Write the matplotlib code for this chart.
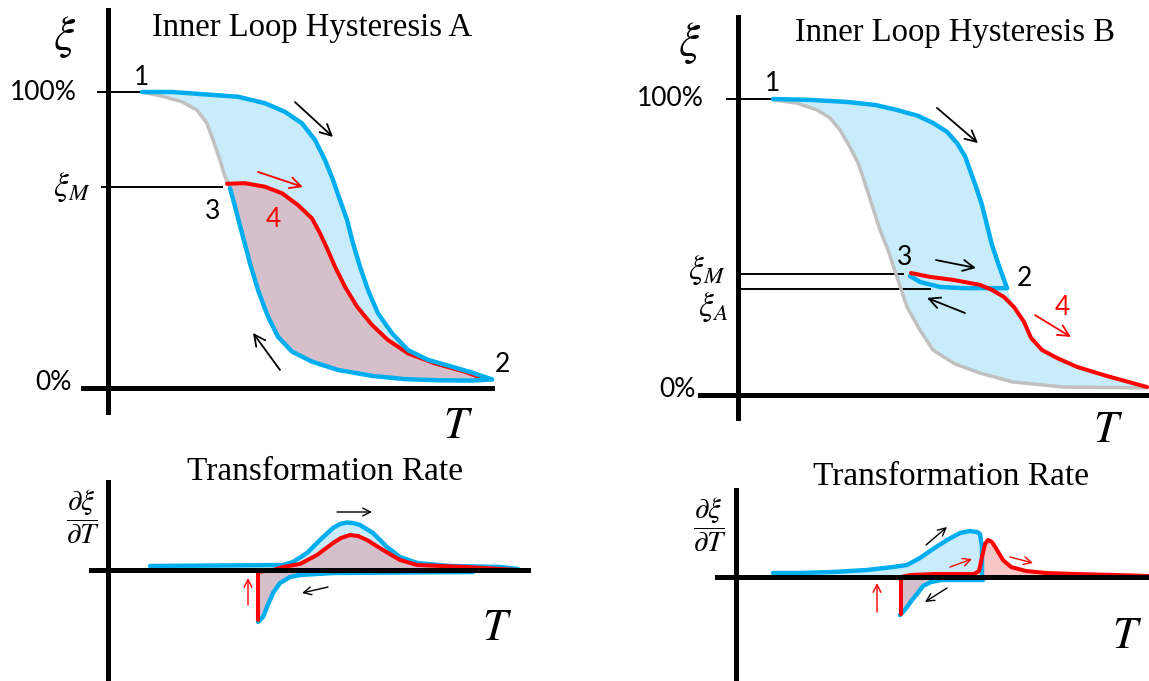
import numpy as np
import matplotlib.pyplot as plt

plt.rcParams['mathtext.fontset'] = 'stix'

# ---- data (T in arbitrary units, xi in %, rate in arbitrary units) ----
# Panel A, xi(T)
A_heat_T = [34, 64, 97, 130, 157, 177, 194, 207, 217, 225, 232, 239, 245, 252, 260, 270, 284, 300, 320, 344, 364, 384]
A_heat_xi = [100, 100, 99.2, 98.4, 96.2, 93.3, 89.4, 83.8, 77.0, 70.3, 63.5, 56.8, 48.9, 41.0, 33.1, 25.2, 18.5,
             12.8, 9.5, 7.2, 5.2, 2.9]
A_gray_T = [34, 54, 74, 89, 99, 105, 112, 117, 121]
A_gray_xi = [100, 98.6, 96.7, 93.9, 89.4, 83.8, 77.0, 71.4, 68.5]
A_cool_T = [122, 127, 134, 142, 150, 160, 170, 184, 204, 230, 264, 297, 330, 364, 384]
A_cool_xi = [67.5, 61.3, 52.3, 42.1, 33.1, 24.1, 17.3, 12.3, 8.9, 6.1, 4.1, 3.0, 2.6, 2.5, 2.9]
A_red_T = [119, 137, 157, 174, 190, 204, 212, 219, 227, 237, 249, 264, 280, 300, 327, 357, 372]
A_red_xi = [69.0, 69.2, 68.0, 65.8, 61.8, 57.3, 52.3, 47.2, 41.0, 34.2, 27.5, 21.3, 16.2, 11.7, 8.3, 5.5, 3.6]

# Panel B, xi(T)
B_heat_T = [35, 72, 109, 137, 159, 180, 195, 209, 219, 227, 232, 238, 244, 249, 254, 260, 265, 269]
B_heat_xi = [100, 99.7, 99.0, 98.0, 96.3, 94.3, 91.9, 88.9, 85.1, 80.7, 76.0, 70.3, 64.2, 57.4, 50.7, 44.6,
             39.9, 36.1]
B_inner_T = [172, 182, 202, 225, 242, 269]
B_inner_xi = [40.2, 38.2, 36.5, 36.1, 36.1, 36.1]
B_red_T = [173, 192, 215, 242, 254, 266, 276, 286, 293, 304, 319, 339, 369, 409]
B_red_xi = [41.2, 39.9, 38.9, 37.2, 35.5, 33.1, 29.7, 24.7, 19.3, 15.2, 12.5, 9.5, 6.4, 2.7]
B_gray_T = [35, 59, 79, 92, 102, 112, 120, 125, 134, 142, 150, 159, 169, 182, 195, 217, 242, 275, 325, 409]
B_gray_xi = [99.7, 98.6, 96.3, 93.6, 89.5, 83.8, 78.4, 73.6, 64.2, 55.7, 49.0, 39.9, 29.7, 21.9, 15.2, 10.5,
             7.4, 4.4, 2.7, 2.4]

# Panel A, rate
RA_heat_T = [42, 175, 185, 199, 212, 225, 232, 239, 245, 252, 265, 279, 292, 309, 342, 392, 410]
RA_heat_r = [4, 5, 8, 17, 30, 42, 46, 47.5, 47, 45, 37, 23, 13, 7, 4, 3, 1]
RA_red_T = [150, 150, 165, 175, 192, 209, 225, 233, 242, 250, 259, 275, 292, 309, 359, 392, 410]
RA_red_r = [-50, -2, 0, 3, 6, 15, 27, 32, 35, 34, 30, 20, 10, 5, 3, 1, 0]
RA_cool_T = [150, 155, 159, 165, 172, 182, 192, 225, 365]
RA_cool_r = [-52, -47, -37, -23, -13, -7, -5, -3, -2]

# Panel B, rate
RB_heat_T = [37, 64, 97, 131, 157, 171, 184, 197, 211, 224, 234, 241, 244, 246, 246]
RB_heat_r = [4, 4, 5, 7, 10, 12, 19, 28, 37, 44, 46, 45, 43, 30, 2]
RB_cool_T = [164, 167, 171, 176, 181, 187, 195, 205, 225, 247]
RB_cool_r = [-38, -35, -30, -23, -17, -9, -5, -3, -3, -3]
RB_red_T = [165, 165, 175, 200, 238, 243, 246, 249, 252, 256, 261, 267, 275, 290, 310, 340, 380, 413]
RB_red_r = [-37, 0, 2, 3, 3, 6, 20, 33, 37, 35, 27, 17, 10, 6, 4, 3, 2, 1]

BLUE = '#00aeef'
RED = '#ff0000'
GRAY = '#c0c0c0'
LBLUE = '#c8ecf9'
MAUVE = '#d5bfca'
PINK = '#f8c6c6'
LW_BLUE, LW_RED, LW_GRAY = 3.2, 2.9, 2.5

W, H = 1149, 681
fig = plt.figure(figsize=(W / 100, H / 100), dpi=100)


def panel(box, origin, yscale, xbounds, ybounds):
    # box in pixels (x0, y0, x1, y1) measured from top-left; origin = pixel of the axes crossing
    x0, y0, x1, y1 = box
    ox, oy = origin
    ax = fig.add_axes([x0 / W, 1 - y1 / H, (x1 - x0) / W, (y1 - y0) / H])
    ax.set_xlim(x0 - ox, x1 - ox)
    ax.set_ylim((oy - y1) / yscale, (oy - y0) / yscale)
    ax.set_xticks([])
    ax.set_yticks([])
    ax.patch.set_alpha(0)
    for s in ['top', 'right']:
        ax.spines[s].set_visible(False)
    for s in ['left', 'bottom']:
        ax.spines[s].set_position(('data', 0))
        ax.spines[s].set_linewidth(3.6)
        ax.spines[s].set_zorder(6)
    ax.spines['bottom'].set_bounds(*xbounds)
    ax.spines['left'].set_bounds(*ybounds)
    return ax


def arrow(ax, start, end, color='black', ms=20, lw=1.3):
    ax.annotate('', xy=end, xytext=start,
                arrowprops=dict(arrowstyle='->', color=color, lw=lw, mutation_scale=ms,
                                shrinkA=0, shrinkB=0), zorder=8)


def num(ax, x, y, s, color='black', ha='center'):
    ax.text(x, y, s, fontsize=19, family='Lato', color=color, ha=ha, va='center', zorder=9)


serif = 'Liberation Serif'

# ---------------- top left: Inner Loop Hysteresis A ----------------
ax = panel((0, 0, 560, 440), (108, 388), 2.96, (-25, 384), (-8.1, 127.7))
ax.fill(A_heat_T + A_cool_T[::-1] + A_gray_T[::-1], A_heat_xi + A_cool_xi[::-1] + A_gray_xi[::-1],
        color=LBLUE, lw=0, zorder=1)
ax.fill(A_red_T + A_cool_T[::-1], A_red_xi + A_cool_xi[::-1], color=MAUVE, lw=0, zorder=1.5)
ax.plot([-10, 49], [100, 100], color='black', lw=1.4, zorder=2)
ax.plot([-6, 114], [67.9, 67.9], color='black', lw=1.4, zorder=2)
ax.plot(A_gray_T, A_gray_xi, color=GRAY, lw=LW_GRAY, solid_capstyle='round', zorder=3)
ax.plot(A_red_T, A_red_xi, color=RED, lw=LW_RED, solid_capstyle='round', zorder=4)
ax.plot(A_heat_T, A_heat_xi, color=BLUE, lw=LW_BLUE, solid_capstyle='round', zorder=5)
ax.plot(A_cool_T, A_cool_xi, color=BLUE, lw=LW_BLUE, solid_capstyle='round', zorder=5)
arrow(ax, (187, 96.6), (225, 84.8))
arrow(ax, (150, 73), (195, 67.9), RED)
arrow(ax, (172, 6.1), (145, 18.6))
ax.text(204, 121.6, 'Inner Loop Hysteresis A', family=serif, fontsize=23.5, ha='center', va='center')
ax.text(-43, 118.6, r'$\xi$', fontsize=34, ha='center', va='center')
ax.text(350, -12.5, r'$T$', fontsize=32, ha='center', va='center')
ax.text(-31, 99.7, '100%', fontsize=19, family='Lato', ha='right', va='center')
ax.text(-17, 67.9, r'$\xi_M$', fontsize=24, ha='right', va='center')
ax.text(-36, 2, '0%', fontsize=19, family='Lato', ha='right', va='center')
num(ax, 34, 105, '1')
num(ax, 105, 59.5, '3')
num(ax, 165, 56.8, '4', RED)
num(ax, 394, 7.8, '2')

# ---------------- top right: Inner Loop Hysteresis B ----------------
ax = panel((580, 0, 1149, 450), (738, 395), 2.96, (-38, 411), (-7.8, 127.7))
tail = [i for i, t in enumerate(B_red_T) if t > 269]
ax.fill(B_heat_T + [B_red_T[i] for i in tail] + B_gray_T[::-1],
        B_heat_xi + [B_red_xi[i] for i in tail] + B_gray_xi[::-1], color=LBLUE, lw=0, zorder=1)
ax.plot([-11, 35], [100, 100], color='black', lw=1.4, zorder=2)
ax.plot([0, 165], [40.9, 40.9], color='black', lw=1.4, zorder=2)
ax.plot([0, 192], [35.8, 35.8], color='black', lw=1.4, zorder=2)
ax.plot(B_gray_T, B_gray_xi, color=GRAY, lw=LW_GRAY, solid_capstyle='round', zorder=3)
ax.plot(B_heat_T, B_heat_xi, color=BLUE, lw=LW_BLUE, solid_capstyle='round', zorder=4)
ax.plot(B_inner_T, B_inner_xi, color=BLUE, lw=LW_BLUE, solid_capstyle='round', zorder=4)
ax.plot(B_red_T, B_red_xi, color=RED, lw=LW_RED, solid_capstyle='round', zorder=5)
arrow(ax, (199, 97), (240, 85.1))
arrow(ax, (198, 45.6), (238, 42.9))
arrow(ax, (227, 27.7), (189, 32.8))
arrow(ax, (297, 27), (333, 19.6), RED)
ax.text(217, 122.3, 'Inner Loop Hysteresis B', family=serif, fontsize=23.5, ha='center', va='center')
ax.text(-48, 118.9, r'$\xi$', fontsize=34, ha='center', va='center')
ax.text(370, -11.8, r'$T$', fontsize=32, ha='center', va='center')
ax.text(-34, 100, '100%', fontsize=19, family='Lato', ha='right', va='center')
ax.text(-12, 42.2, r'$\xi_M$', fontsize=24, ha='right', va='center')
ax.text(-10, 29.8, r'$\xi_A$', fontsize=24, ha='right', va='center')
ax.text(-42, 1.7, '0%', fontsize=19, family='Lato', ha='right', va='center')
num(ax, 35, 105.4, '1')
num(ax, 167, 46.3, '3')
num(ax, 286, 39.5, '2')
num(ax, 324, 29.4, '4', RED)

# ---------------- bottom left: Transformation Rate ----------------
ax = panel((0, 445, 560, 681), (108, 570), 1.0, (-17, 420), (-108, 88))
ax.fill(RA_heat_T + [RA_heat_T[-1], RA_heat_T[0]], RA_heat_r + [0, 0], color=LBLUE, lw=0, zorder=1)
ax.fill(RA_red_T + RA_cool_T[::-1], RA_red_r + RA_cool_r[::-1], color=MAUVE, lw=0, zorder=1.5)
ax.plot(RA_heat_T, RA_heat_r, color=BLUE, lw=LW_BLUE, solid_capstyle='round', zorder=4)
ax.plot(RA_cool_T, RA_cool_r, color=BLUE, lw=LW_BLUE, solid_capstyle='round', zorder=4)
ax.plot(RA_red_T, RA_red_r, color=RED, lw=LW_RED, solid_capstyle='round', zorder=5)
arrow(ax, (229, 58), (264, 58), ms=14, lw=1.0)
arrow(ax, (220, -17), (194, -23), ms=14, lw=1.0)
arrow(ax, (140, -35), (140, -8), RED, ms=14, lw=1.0)
ax.text(217, 98, 'Transformation Rate', family=serif, fontsize=24, ha='center', va='center')
ax.text(-25, 53, r'$\dfrac{\partial\xi}{\partial T}$', fontsize=21, ha='center', va='center')
ax.text(389, -58, r'$T$', fontsize=32, ha='center', va='center')

# ---------------- bottom right: Transformation Rate ----------------
ax = panel((580, 450, 1149, 681), (736, 577), 1.0, (-19, 413), (-103, 87))
ax.fill(RB_heat_T + [RB_heat_T[0]], RB_heat_r + [0], color=LBLUE, lw=0, zorder=1)
peak = [i for i, t in enumerate(RB_red_T) if t >= 238]
ax.fill([RB_red_T[i] for i in peak] + [RB_red_T[-1], RB_red_T[peak[0]]],
        [RB_red_r[i] for i in peak] + [0, 0], color=PINK, lw=0, zorder=1)
ax.fill([RB_red_T[0]] + RB_cool_T + [RB_cool_T[-1]], [0] + RB_cool_r + [0], color=MAUVE, lw=0, zorder=1.5)
ax.plot(RB_heat_T, RB_heat_r, color=BLUE, lw=LW_BLUE, solid_capstyle='round', zorder=4)
ax.plot(RB_cool_T, RB_cool_r, color=BLUE, lw=LW_BLUE, solid_capstyle='round', zorder=4)
ax.plot(RB_red_T, RB_red_r, color=RED, lw=LW_RED, solid_capstyle='round', zorder=5)
arrow(ax, (190, 32), (211, 50), ms=14, lw=1.0)
arrow(ax, (214, 10), (236, 18), RED, ms=14, lw=1.0)
arrow(ax, (274, 20), (297, 14), RED, ms=14, lw=1.0)
arrow(ax, (211, -11), (189, -25), ms=14, lw=1.0)
arrow(ax, (141, -35), (141, -6), RED, ms=14, lw=1.0)
ax.text(215, 100, 'Transformation Rate', family=serif, fontsize=24, ha='center', va='center')
ax.text(-26, 52, r'$\dfrac{\partial\xi}{\partial T}$', fontsize=21, ha='center', va='center')
ax.text(391, -58, r'$T$', fontsize=32, ha='center', va='center')

fig.savefig('out.png', dpi=100)
